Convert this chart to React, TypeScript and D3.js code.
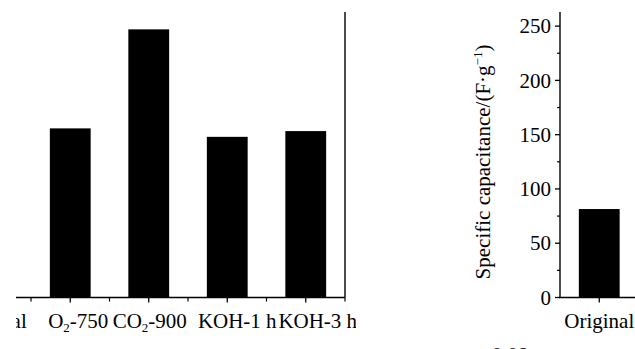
import React from "react";
import * as d3 from "d3";

const categories = ["Original", "O₂-750", "CO₂-900", "KOH-1 h", "KOH-3 h"];
const capacitance = [81.5, 155.8, 247, 148, 153.3];
const yTicks = [0, 50, 100, 150, 200, 250];
const yMinorTicks = [25, 75, 125, 175, 225];
const yLabel = "Specific capacitance/(F·g";
const nextChartTick = "0.08";

// small horizontal nudges of the category labels, as in the source figure
const labelNudge = [0, 8, 1, 10, 12];

const W = 635;
const H = 349;
const FONT = "Liberation Serif";
const FS = 21;

const y = d3.scaleLinear().domain([0, 263]).range([297.5, 12]);

const makeX = (x0: number) =>
  d3
    .scaleBand<string>()
    .domain(categories)
    .range([x0, x0 + 392.5])
    .paddingInner(0.48)
    .paddingOuter(0.24);

const renderLabel = (s: string) => {
  const parts = s.split("₂");
  if (parts.length === 1) return s;
  return (
    <>
      {parts[0]}
      <tspan style={{ fontSize: 13 }} dy={4}>2</tspan>
      <tspan dy={-4}>{parts[1]}</tspan>
    </>
  );
};

const Panel = ({ x0, clipId, left, right }: { x0: number; clipId: string; left: boolean; right: boolean }) => {
  const x = makeX(x0);
  const step = x.step();
  const [r0, r1] = x.range();
  const bounds = categories.slice(1).map((c) => (x(c) as number) - step * 0.24);
  bounds.push(r1);
  return (
    <g clipPath={`url(#${clipId})`}>
      {categories.map((c, i) => (
        <rect
          key={c}
          x={x(c)}
          y={y(capacitance[i])}
          width={x.bandwidth()}
          height={y(0) - y(capacitance[i])}
          fill="#000"
        />
      ))}
      <line x1={r0 - 1} x2={r1} y1={y(0)} y2={y(0)} stroke="#000" strokeWidth={1.4} />
      {categories.map((c, i) => {
        const cx = (x(c) as number) + x.bandwidth() / 2;
        return (
          <g key={c}>
            <line x1={cx} x2={cx} y1={y(0)} y2={y(0) + 5} stroke="#000" strokeWidth={1.3} />
            <text x={cx + labelNudge[i]} y={328} textAnchor="middle" style={{ fontSize: FS, fontFamily: FONT }}>
              {renderLabel(c)}
            </text>
          </g>
        );
      })}
      {bounds.map((b, i) => (
        <line key={i} x1={b} x2={b} y1={y(0)} y2={y(0) + 4} stroke="#000" strokeWidth={1.2} />
      ))}
      {left && (
        <g>
          <line x1={r0} x2={r0} y1={y.range()[1]} y2={y(0)} stroke="#000" strokeWidth={1.4} />
          {yTicks.map((t) => (
            <g key={t}>
              <line x1={r0 - 5} x2={r0} y1={y(t)} y2={y(t)} stroke="#000" strokeWidth={1.3} />
              <text x={r0 - 9} y={y(t)} dy="0.34em" textAnchor="end" style={{ fontSize: FS, fontFamily: FONT }}>
                {t}
              </text>
            </g>
          ))}
          {yMinorTicks.map((t) => (
            <line key={t} x1={r0 - 3} x2={r0} y1={y(t)} y2={y(t)} stroke="#000" strokeWidth={1.2} />
          ))}
        </g>
      )}
      {right && (
        <line x1={r1} x2={r1} y1={y.range()[1]} y2={y(0)} stroke="#000" strokeWidth={1.4} />
      )}
    </g>
  );
};

export default function App() {
  return (
    <svg
      width={W}
      height={H}
      style={{ position: "absolute", left: 0, top: 0, background: "#fff" }}
    >
      <defs>
        <clipPath id="clipA">
          <rect x={16} y={0} width={340} height={H} />
        </clipPath>
        <clipPath id="clipB">
          <rect x={440} y={0} width={W - 440} height={H} />
        </clipPath>
      </defs>
      <rect width={W} height={H} fill="#fff" />
      <Panel x0={-47.5} clipId="clipA" left={true} right={true} />
      <Panel x0={560} clipId="clipB" left={true} right={false} />
      <text
        transform="translate(483,162) rotate(-90)"
        textAnchor="middle"
        dy="0.35em"
        style={{ fontSize: FS, fontFamily: FONT }}
      >
        {yLabel}
        <tspan style={{ fontSize: 13 }} dy={-8}>−1</tspan>
        <tspan dy={8}>)</tspan>
      </text>
      <text x={510} y={362} textAnchor="middle" style={{ fontSize: FS, fontFamily: FONT }}>
        {nextChartTick}
      </text>
    </svg>
  );
}
